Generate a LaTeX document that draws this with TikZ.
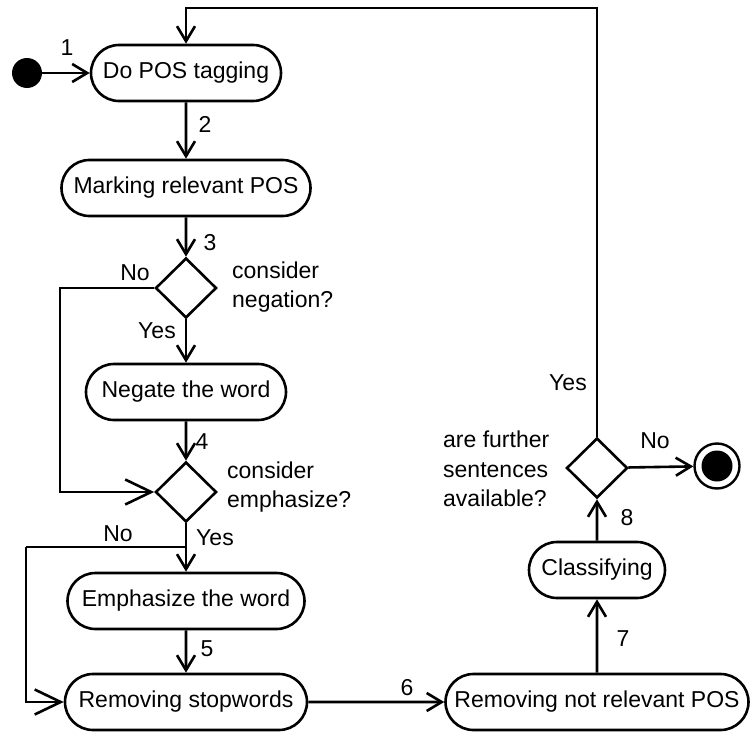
\documentclass[tikz,border=0pt]{standalone}
\usepackage{fontspec}
\setmainfont{Liberation Sans}
\usetikzlibrary{arrows.meta,shapes.misc,shapes.geometric}

\tikzset{
  activity/.style={rounded rectangle, draw, line width=2.6pt, inner sep=0pt,
    minimum height=56pt},
  decision/.style={diamond, draw, line width=2.6pt, inner sep=0pt,
    minimum width=61pt, minimum height=60pt},
  flow/.style={line width=2.6pt, -{Straight Barb[length=15pt,width=18pt,line width=2.6pt]}},
  bigflow/.style={line width=2.6pt, -{Straight Barb[length=26pt,width=25pt,line width=2.6pt]}},
  wire/.style={line width=2.6pt},
  lbl/.style={inner sep=0pt, anchor=base},
  note/.style={inner sep=0pt, anchor=west, align=left},
}

\begin{document}
\begin{tikzpicture}[x=1pt, y=-1pt, font=\fontsize{23}{29.5}\selectfont]
\useasboundingbox (0,0) rectangle (750,733);

% initial and final states
\node[circle, fill=black, inner sep=0pt, minimum size=30pt] (start) at (27,73) {};
\node[circle, draw, line width=2.4pt, inner sep=0pt, minimum size=45pt] (stop) at (717,466) {};
\node[circle, fill=black, inner sep=0pt, minimum size=31pt] (stopdot) at (717,466) {};

% left column
\node[activity, minimum width=190pt] (tag) at (186,73) {Do POS tagging};
\node[activity, minimum width=249pt] (mark) at (186,188) {Marking relevant POS};
\node[decision] (neg) at (186,288) {};
\node[activity, minimum width=200pt] (negate) at (186,392) {Negate the word};
\node[decision] (emph) at (186,492) {};
\node[activity, minimum width=237pt] (emphbox) at (186,601) {Emphasize the word};
\node[activity, minimum width=242pt] (stopw) at (186,702) {Removing stopwords};

% right column
\node[activity, minimum width=303pt] (nrpos) at (597,702) {Removing not relevant POS};
\node[activity, minimum width=136pt] (classify) at (597,570) {Classifying};
\node[decision] (more) at (597,468) {};

% routing points
\coordinate (loopR) at (597,8);
\coordinate (loopL) at (186,8);
\coordinate (negL) at (60,288);
\coordinate (negB) at (60,492);
\coordinate (split) at (186,547);
\coordinate (emphL) at (26,547);
\coordinate (emphB) at (26,702);

% main flow
\draw[flow] (start) -- (tag);
\draw[flow] (tag) -- (mark);
\draw[flow] (mark) -- (neg);
\draw[flow] (neg) -- (negate);
\draw[flow] (negate) -- (emph);
\draw[flow] (emph) -- (emphbox);
\draw[flow] (emphbox) -- (stopw);
\draw[flow] (stopw) -- (nrpos);
\draw[flow] (nrpos) -- (classify);
\draw[flow] (classify) -- (more);
\draw[flow] (more) -- (stop);

% branches
\draw[bigflow] (neg.west) -- (negL) -- (negB) -- (emph.west);
\draw[wire] (split) -- (emphL);
\draw[bigflow] (emphL) -- (emphB) -- (stopw.west);
\draw[flow] (more.north) -- (loopR) -- (loopL) -- (tag.north);

% labels
\node[lbl] (n1) at (67,56) {1};
\node[lbl] (n2) at (205,133) {2};
\node[lbl] (n3) at (210,250) {3};
\node[lbl] (n4) at (202,449) {4};
\node[lbl] (n5) at (207,656) {5};
\node[lbl] (n6) at (407,695) {6};
\node[lbl] (n7) at (623,646) {7};
\node[lbl] (n8) at (627,525) {8};

\node[lbl] (noA) at (135,280) {No};
\node[lbl] (yesA) at (157,338) {Yes};
\node[lbl] (noB) at (118,541) {No};
\node[lbl] (yesB) at (215,545) {Yes};
\node[lbl] (yesC) at (568,390) {Yes};
\node[lbl] (noC) at (655,448) {No};

\node[note] (qneg) at (232,287) {consider\\negation?};
\node[note] (qemph) at (227,487) {consider\\emphasize?};
\node[note] (qmore) at (443,469) {are further\\sentences\\available?};
\end{tikzpicture}
\end{document}
